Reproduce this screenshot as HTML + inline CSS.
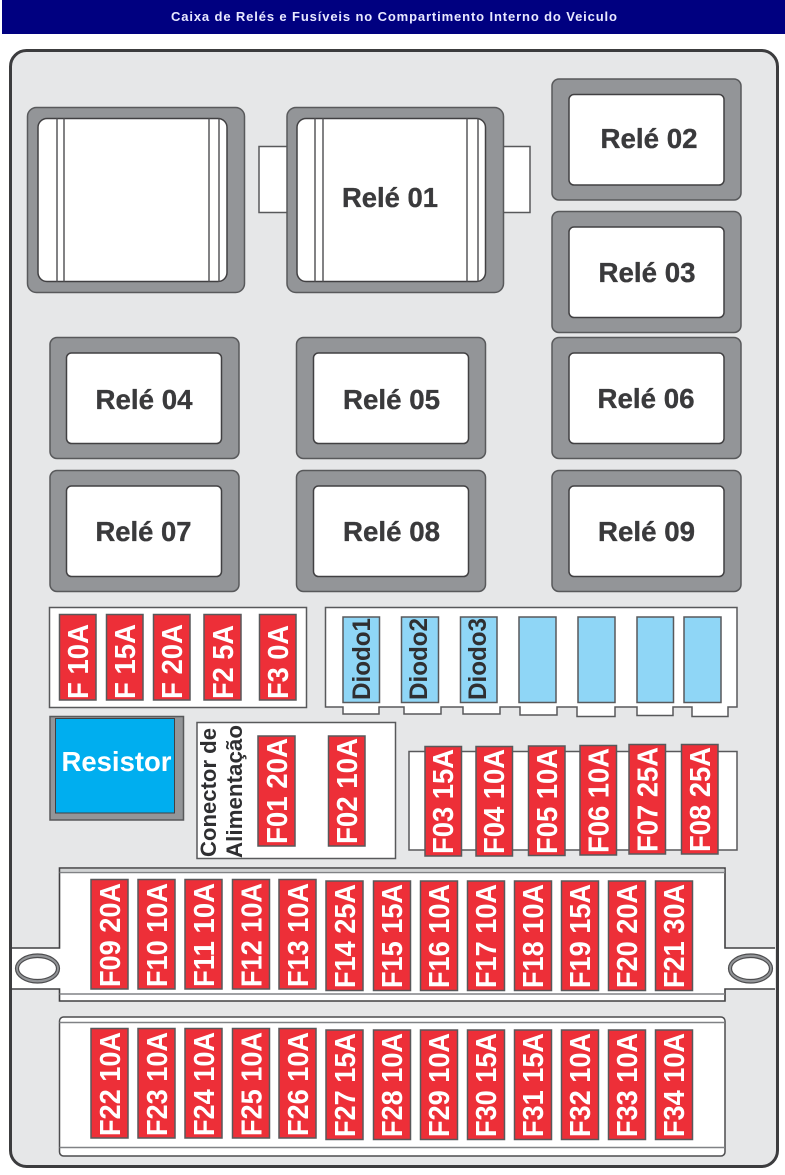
<!DOCTYPE html>
<html lang="pt"><head><meta charset="utf-8"><title>Caixa de Relés e Fusíveis</title>
<style>
html,body{margin:0;padding:0;background:#fff;width:785px;height:1175px;overflow:hidden}
svg{display:block}
text{font-family:"Liberation Sans",sans-serif;font-weight:bold}
.o{fill:#939598;stroke:#58595b;stroke-width:1.5}
.i{fill:#fff;stroke:#414042;stroke-width:1.5}
.l{fill:#3a3a3c;font-size:28px;stroke:#3a3a3c;stroke-width:.35}
.f{fill:#ed2f38;stroke:#58595b;stroke-width:1.5}
.t{fill:#fff;font-size:29px}
.d{fill:#8fd6f6;stroke:#58595b;stroke-width:1.5}
.b{fill:#fff;stroke:#58595b;stroke-width:1.5}
.s{stroke:#58595b;stroke-width:1.5;fill:none}
</style></head><body>
<svg width="785" height="1175" viewBox="0 0 785 1175" xmlns="http://www.w3.org/2000/svg">
<rect x="2" y="0" width="783" height="34" fill="#000080"/>
<text x="171" y="21" font-size="13" fill="#e8e8ff" textLength="446" lengthAdjust="spacing">Caixa de Relés e Fusíveis no Compartimento Interno do Veiculo</text>

<rect x="10.5" y="50.5" width="767" height="1116" rx="16" fill="#e6e7e8" stroke="#3c3c3e" stroke-width="3"/>

<!-- side tabs -->
<rect x="259" y="146.5" width="30" height="66" class="b"/>
<rect x="501" y="146.5" width="29" height="66" class="b"/>

<!-- large relays -->
<rect x="27.5" y="107.5" width="217" height="185" rx="9" class="o"/>
<rect x="38" y="118.5" width="189" height="163" rx="9" class="i"/>
<path d="M57 118.5V281.5M64 118.5V281.5M209 118.5V281.5M219 118.5V281.5" class="s"/>
<rect x="287" y="107.5" width="216.5" height="185" rx="9" class="o"/>
<rect x="297" y="118.5" width="188.5" height="163" rx="9" class="i"/>
<path d="M315 118.5V281.5M323 118.5V281.5M467 118.5V281.5M478 118.5V281.5" class="s"/>
<text x="342" y="207" class="l" textLength="96" lengthAdjust="spacingAndGlyphs">Relé 01</text>

<!-- small relays -->
<rect x="552" y="79" width="189" height="121" rx="7" class="o"/><rect x="569" y="94.5" width="155" height="90.5" rx="5" class="i"/>
<text x="600.5" y="148" class="l" textLength="97" lengthAdjust="spacingAndGlyphs">Relé 02</text>
<rect x="552" y="211.5" width="189" height="121" rx="7" class="o"/><rect x="569" y="227" width="155" height="90.5" rx="5" class="i"/>
<text x="598.5" y="282" class="l" textLength="97" lengthAdjust="spacingAndGlyphs">Relé 03</text>

<rect x="50" y="337.5" width="189" height="121" rx="7" class="o"/><rect x="66.5" y="353" width="155" height="90.5" rx="5" class="i"/>
<text x="95.5" y="409" class="l" textLength="97" lengthAdjust="spacingAndGlyphs">Relé 04</text>
<rect x="296.5" y="337.5" width="189" height="121" rx="7" class="o"/><rect x="313.5" y="353" width="155" height="90.5" rx="5" class="i"/>
<text x="343" y="409" class="l" textLength="97" lengthAdjust="spacingAndGlyphs">Relé 05</text>
<rect x="552" y="337.5" width="189" height="121" rx="7" class="o"/><rect x="569" y="353" width="155" height="90.5" rx="5" class="i"/>
<text x="597.5" y="408" class="l" textLength="97" lengthAdjust="spacingAndGlyphs">Relé 06</text>

<rect x="50" y="470.5" width="189" height="121" rx="7" class="o"/><rect x="66.5" y="486" width="155" height="90.5" rx="5" class="i"/>
<text x="95.5" y="541" class="l" textLength="96" lengthAdjust="spacingAndGlyphs">Relé 07</text>
<rect x="296.5" y="470.5" width="189" height="121" rx="7" class="o"/><rect x="313.5" y="486" width="155" height="90.5" rx="5" class="i"/>
<text x="343" y="541" class="l" textLength="97" lengthAdjust="spacingAndGlyphs">Relé 08</text>
<rect x="552" y="470.5" width="189" height="121" rx="7" class="o"/><rect x="569" y="486" width="155" height="90.5" rx="5" class="i"/>
<text x="598" y="541" class="l" textLength="97" lengthAdjust="spacingAndGlyphs">Relé 09</text>

<!-- top-left fuses -->
<rect x="49.5" y="607.5" width="257" height="100" class="b"/>
<rect x="59.5" y="614.5" width="36.5" height="85.5" class="f"/><text transform="translate(88,699) rotate(-90)" class="t" textLength="75" lengthAdjust="spacingAndGlyphs">F 10A</text>
<rect x="106.5" y="614.5" width="36.5" height="85.5" class="f"/><text transform="translate(135,699) rotate(-90)" class="t" textLength="75" lengthAdjust="spacingAndGlyphs">F 15A</text>
<rect x="153.5" y="614.5" width="36.5" height="85.5" class="f"/><text transform="translate(182,699) rotate(-90)" class="t" textLength="75" lengthAdjust="spacingAndGlyphs">F 20A</text>
<rect x="204" y="614.5" width="37" height="85.5" class="f"/><text transform="translate(233,699) rotate(-90)" class="t" textLength="74" lengthAdjust="spacingAndGlyphs">F2 5A</text>
<rect x="259.5" y="614.5" width="36.5" height="85.5" class="f"/><text transform="translate(288,699) rotate(-90)" class="t" textLength="74" lengthAdjust="spacingAndGlyphs">F3 0A</text>

<!-- diode block -->
<path d="M325.5 607.5H737V707H728V716.5H692V707H673V715.5H637V707H615V716.5H577V707H557V715H520V707H500V714H463V707H441V714H404V707H379V714H343V707H325.5Z" class="b"/>
<rect x="343" y="617" width="36.5" height="85.5" class="d"/><text transform="translate(370,700) rotate(-90)" font-size="25" fill="#2f2f31" textLength="82" lengthAdjust="spacingAndGlyphs">Diodo1</text>
<rect x="401.5" y="617" width="37" height="85.5" class="d"/><text transform="translate(427,700) rotate(-90)" font-size="25" fill="#2f2f31" textLength="82" lengthAdjust="spacingAndGlyphs">Diodo2</text>
<rect x="460.5" y="617" width="36.5" height="85.5" class="d"/><text transform="translate(486,700) rotate(-90)" font-size="25" fill="#2f2f31" textLength="82" lengthAdjust="spacingAndGlyphs">Diodo3</text>
<rect x="519" y="617" width="37" height="85.5" class="d"/>
<rect x="578" y="617" width="37" height="85.5" class="d"/>
<rect x="637" y="617" width="36.5" height="85.5" class="d"/>
<rect x="684" y="617" width="37" height="85.5" class="d"/>

<!-- resistor -->
<rect x="50" y="716.5" width="133.5" height="103.5" fill="#939598" stroke="#58595b" stroke-width="1.5"/>
<rect x="55.5" y="718.5" width="119" height="94.5" fill="#00aeef" stroke="#414042" stroke-width="1"/>
<text x="61.5" y="771" font-size="28" fill="#fff" textLength="110" lengthAdjust="spacingAndGlyphs">Resistor</text>

<!-- connector -->
<rect x="197" y="722.5" width="198.5" height="136" class="b"/>
<text transform="translate(216,857) rotate(-90)" font-size="22" fill="#2f2f31" textLength="129" lengthAdjust="spacingAndGlyphs">Conector de</text>
<text transform="translate(242,858) rotate(-90)" font-size="22" fill="#2f2f31" textLength="133" lengthAdjust="spacingAndGlyphs">Alimentação</text>
<rect x="258" y="736" width="37" height="110" class="f"/><text transform="translate(287,844) rotate(-90)" class="t" textLength="106" lengthAdjust="spacingAndGlyphs">F01 20A</text>
<rect x="328.5" y="736" width="36.5" height="110" class="f"/><text transform="translate(357,844) rotate(-90)" class="t" textLength="106" lengthAdjust="spacingAndGlyphs">F02 10A</text>

<!-- F03-F08 -->
<rect x="409" y="751.5" width="328" height="98.5" class="b"/>
<rect x="425" y="746.5" width="36.5" height="109.5" class="f"/><text transform="translate(453,854) rotate(-90)" class="t" textLength="105" lengthAdjust="spacingAndGlyphs">F03 15A</text>
<rect x="476" y="746.5" width="36.5" height="109.5" class="f"/><text transform="translate(504,854) rotate(-90)" class="t" textLength="105" lengthAdjust="spacingAndGlyphs">F04 10A</text>
<rect x="528.5" y="746" width="36.5" height="109.5" class="f"/><text transform="translate(557,854) rotate(-90)" class="t" textLength="105" lengthAdjust="spacingAndGlyphs">F05 10A</text>
<rect x="580" y="745.5" width="36.5" height="109.5" class="f"/><text transform="translate(608.5,853) rotate(-90)" class="t" textLength="105" lengthAdjust="spacingAndGlyphs">F06 10A</text>
<rect x="629" y="744.5" width="36.5" height="109.5" class="f"/><text transform="translate(657.5,852) rotate(-90)" class="t" textLength="105" lengthAdjust="spacingAndGlyphs">F07 25A</text>
<rect x="681.5" y="744.5" width="36.5" height="109.5" class="f"/><text transform="translate(710,852) rotate(-90)" class="t" textLength="105" lengthAdjust="spacingAndGlyphs">F08 25A</text>

<!-- upper fuse block -->
<path d="M59.5 868H725V948H775V989H725V1001H59.5V989H12V948H59.5Z" fill="#fff"/>
<path d="M12 948H59.5V868H725V948H775M775 989H725V1001H59.5V989H12" fill="none" stroke="#414042" stroke-width="1.6"/>
<rect x="60.5" y="869" width="664" height="2.5" fill="#d1d3d4"/>
<path d="M59.5 872.5H725M59.5 994H725" stroke="#808285" stroke-width="1.5" fill="none"/>
<ellipse cx="37.5" cy="968.5" rx="22" ry="14.5" fill="#939598" stroke="#4d4d4f" stroke-width="1.2"/>
<ellipse cx="37.5" cy="968.5" rx="19" ry="11" fill="#fff" stroke="#4d4d4f" stroke-width="1.2"/>
<ellipse cx="750.5" cy="968.5" rx="22" ry="14.5" fill="#939598" stroke="#4d4d4f" stroke-width="1.2"/>
<ellipse cx="750.5" cy="968.5" rx="19" ry="11" fill="#fff" stroke="#4d4d4f" stroke-width="1.2"/>

<rect x="91" y="879.5" width="37" height="109.5" class="f"/><text transform="translate(120,987) rotate(-90)" class="t" textLength="104" lengthAdjust="spacingAndGlyphs">F09 20A</text>
<rect x="138" y="879.5" width="37" height="109.5" class="f"/><text transform="translate(167,987) rotate(-90)" class="t" textLength="104" lengthAdjust="spacingAndGlyphs">F10 10A</text>
<rect x="185" y="879.5" width="37" height="109.5" class="f"/><text transform="translate(214,987) rotate(-90)" class="t" textLength="104" lengthAdjust="spacingAndGlyphs">F11 10A</text>
<rect x="232.5" y="879.5" width="37" height="109.5" class="f"/><text transform="translate(261.5,987) rotate(-90)" class="t" textLength="104" lengthAdjust="spacingAndGlyphs">F12 10A</text>
<rect x="279" y="879.5" width="37" height="109.5" class="f"/><text transform="translate(308,987) rotate(-90)" class="t" textLength="104" lengthAdjust="spacingAndGlyphs">F13 10A</text>
<rect x="326" y="881" width="37" height="109.5" class="f"/><text transform="translate(355,988) rotate(-90)" class="t" textLength="104" lengthAdjust="spacingAndGlyphs">F14 25A</text>
<rect x="373.5" y="881" width="37" height="109.5" class="f"/><text transform="translate(402,988) rotate(-90)" class="t" textLength="104" lengthAdjust="spacingAndGlyphs">F15 15A</text>
<rect x="420.5" y="881" width="37" height="109.5" class="f"/><text transform="translate(449,988) rotate(-90)" class="t" textLength="104" lengthAdjust="spacingAndGlyphs">F16 10A</text>
<rect x="467.5" y="881" width="37" height="109.5" class="f"/><text transform="translate(496,988) rotate(-90)" class="t" textLength="104" lengthAdjust="spacingAndGlyphs">F17 10A</text>
<rect x="514.5" y="881" width="37" height="109.5" class="f"/><text transform="translate(543,988) rotate(-90)" class="t" textLength="104" lengthAdjust="spacingAndGlyphs">F18 10A</text>
<rect x="561.5" y="881" width="37" height="109.5" class="f"/><text transform="translate(590,988) rotate(-90)" class="t" textLength="104" lengthAdjust="spacingAndGlyphs">F19 15A</text>
<rect x="608.5" y="881" width="37" height="109.5" class="f"/><text transform="translate(637,988) rotate(-90)" class="t" textLength="104" lengthAdjust="spacingAndGlyphs">F20 20A</text>
<rect x="655.5" y="881" width="37" height="109.5" class="f"/><text transform="translate(684,988) rotate(-90)" class="t" textLength="104" lengthAdjust="spacingAndGlyphs">F21 30A</text>

<!-- lower fuse block -->
<rect x="59.5" y="1017" width="665.5" height="139" rx="4" fill="#fff" stroke="#4d4d4f" stroke-width="1.5"/>
<path d="M59.5 1022.5H725M59.5 1147.5H725" stroke="#808285" stroke-width="1.5" fill="none"/>

<rect x="91" y="1028.5" width="37" height="109.5" class="f"/><text transform="translate(120,1136) rotate(-90)" class="t" textLength="104" lengthAdjust="spacingAndGlyphs">F22 10A</text>
<rect x="138" y="1028.5" width="37" height="109.5" class="f"/><text transform="translate(167,1136) rotate(-90)" class="t" textLength="104" lengthAdjust="spacingAndGlyphs">F23 10A</text>
<rect x="185" y="1028.5" width="37" height="109.5" class="f"/><text transform="translate(214,1136) rotate(-90)" class="t" textLength="104" lengthAdjust="spacingAndGlyphs">F24 10A</text>
<rect x="232.5" y="1028.5" width="37" height="109.5" class="f"/><text transform="translate(261.5,1136) rotate(-90)" class="t" textLength="104" lengthAdjust="spacingAndGlyphs">F25 10A</text>
<rect x="279" y="1028.5" width="37" height="109.5" class="f"/><text transform="translate(308,1136) rotate(-90)" class="t" textLength="104" lengthAdjust="spacingAndGlyphs">F26 10A</text>
<rect x="326" y="1030" width="37" height="109.5" class="f"/><text transform="translate(355,1137) rotate(-90)" class="t" textLength="104" lengthAdjust="spacingAndGlyphs">F27 15A</text>
<rect x="373.5" y="1030" width="37" height="109.5" class="f"/><text transform="translate(402,1137) rotate(-90)" class="t" textLength="104" lengthAdjust="spacingAndGlyphs">F28 10A</text>
<rect x="420.5" y="1030" width="37" height="109.5" class="f"/><text transform="translate(449,1137) rotate(-90)" class="t" textLength="104" lengthAdjust="spacingAndGlyphs">F29 10A</text>
<rect x="467.5" y="1030" width="37" height="109.5" class="f"/><text transform="translate(496,1137) rotate(-90)" class="t" textLength="104" lengthAdjust="spacingAndGlyphs">F30 15A</text>
<rect x="514.5" y="1030" width="37" height="109.5" class="f"/><text transform="translate(543,1137) rotate(-90)" class="t" textLength="104" lengthAdjust="spacingAndGlyphs">F31 15A</text>
<rect x="561.5" y="1030" width="37" height="109.5" class="f"/><text transform="translate(590,1137) rotate(-90)" class="t" textLength="104" lengthAdjust="spacingAndGlyphs">F32 10A</text>
<rect x="608.5" y="1030" width="37" height="109.5" class="f"/><text transform="translate(637,1137) rotate(-90)" class="t" textLength="104" lengthAdjust="spacingAndGlyphs">F33 10A</text>
<rect x="655.5" y="1030" width="37" height="109.5" class="f"/><text transform="translate(684,1137) rotate(-90)" class="t" textLength="104" lengthAdjust="spacingAndGlyphs">F34 10A</text>
</svg>
</body></html>
